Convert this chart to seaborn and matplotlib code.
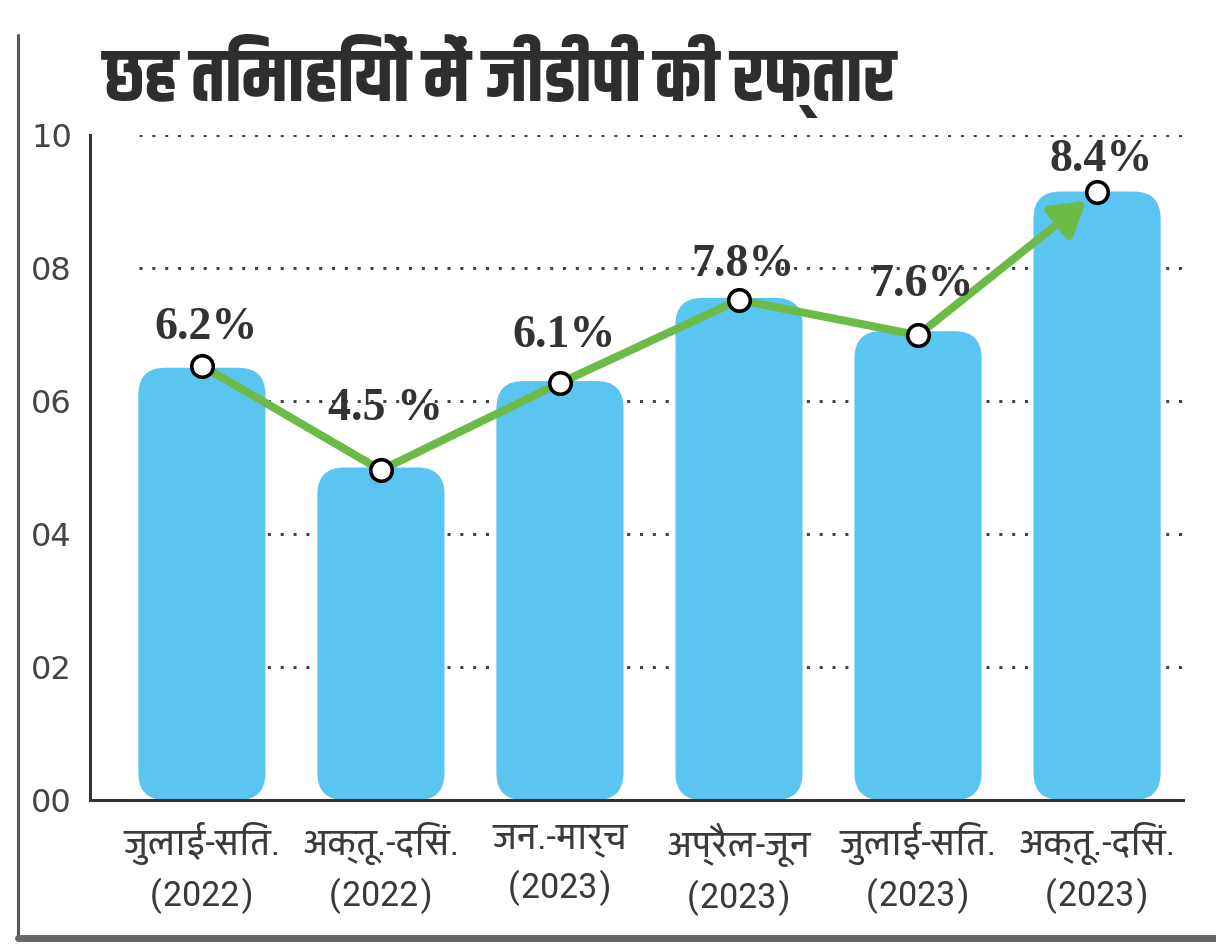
import matplotlib
matplotlib.use("Agg")
import matplotlib.pyplot as plt
from matplotlib.patches import FancyBboxPatch
from matplotlib.lines import Line2D
import numpy as np
import pandas as pd
import seaborn as sns

# ---------------- data ----------------
title = "छह तिमाहियों में जीडीपी की रफ्तार"
quarters = ["जुलाई-सितं.", "अक्तू.-दिसं.", "जन.-मार्च", "अप्रैल-जून", "जुलाई-सित.", "अक्तू.-दिसं."]
years = ["(2022)", "(2022)", "(2023)", "(2023)", "(2023)", "(2023)"]
bar_heights = [6.5, 5.0, 6.3, 7.55, 7.05, 9.15]
point_values = [6.53, 4.96, 6.27, 7.52, 6.99, 9.14]
value_labels = ["6.2%", "4.5 %", "6.1%", "7.8%", "7.6%", "8.4%"]
y_ticks = [0, 2, 4, 6, 8, 10]
y_tick_labels = ["00", "02", "04", "06", "08", "10"]

# ---------------- style ----------------
BAR = "#5BC5F1"
GREEN = "#6CBA47"
DARK = "#333333"
label_offsets_pt = [27, 44, 34, 25, 36, 23]

sns.set_style("white")
plt.rcParams["font.family"] = ["DejaVu Sans"]

W, H = 1216, 948
fig = plt.figure(figsize=(W / 100, H / 100), dpi=100)
ax_l, ax_r, ax_b, ax_t = 90, 1183, 800, 135
ax = fig.add_axes([ax_l / W, 1 - ax_b / H, (ax_r - ax_l) / W, (ax_b - ax_t) / H])

labels = [f"{q}\n{y}" for q, y in zip(quarters, years)]
df = pd.DataFrame({"cat": labels, "val": bar_heights, "pt": point_values})

sns.barplot(data=df, x="cat", y="val", color=BAR, width=0.71, saturation=1, ax=ax, zorder=2)

xmin, xmax = -0.625, 5.48
ax.set_xlim(xmin, xmax)
ax.set_ylim(0, 10)

# rounded bars from the library's own bar geometry
px_x = (ax_r - ax_l) / (xmax - xmin)
px_y = (ax_b - ax_t) / 10.0
aspect = px_x / px_y
r = 27 / px_x
for p in list(ax.patches):
    x0, y0, w, h = p.get_x(), p.get_y(), p.get_width(), p.get_height()
    p.remove()
    fb = FancyBboxPatch((x0, y0), w, h, boxstyle=f"round,pad=0,rounding_size={r}",
                        mutation_aspect=aspect, fc=BAR, ec="none", zorder=2)
    ax.add_patch(fb)

# dotted gridlines
for yv in y_ticks[1:]:
    ax.axhline(yv, xmin=(-0.35 - xmin) / (xmax - xmin), xmax=1, color="#444444",
               lw=2.2, ls=(0, (1, 3.2)), zorder=1)

# green line (first segments) + arrow on the last segment
xs = np.arange(len(point_values))
sns.lineplot(x=xs[:-1], y=point_values[:-1], color=GREEN, lw=5.8, ax=ax, zorder=3,
             solid_capstyle="round", solid_joinstyle="round", sort=False)
ax.annotate("", xy=(xs[-1], point_values[-1]), xytext=(xs[-2], point_values[-2]),
            arrowprops=dict(arrowstyle="-|>,head_length=0.9,head_width=0.55", lw=5.8,
                            color=GREEN, shrinkA=0, shrinkB=10, mutation_scale=22),
            zorder=3)
sns.scatterplot(x=xs, y=point_values, s=240, color="white", edgecolor="black",
                linewidth=2.6, ax=ax, zorder=5, legend=False)

for xi, yv, lab, off in zip(xs, point_values, value_labels, label_offsets_pt):
    ax.annotate(lab, (xi, yv), xytext=(3, off), textcoords="offset points",
                ha="center", va="center", fontsize=33, fontweight="bold",
                family="Liberation Serif", color=DARK, zorder=6, annotation_clip=False)

# axes styling
for s in ["top", "right"]:
    ax.spines[s].set_visible(False)
for s in ["left", "bottom"]:
    ax.spines[s].set_color(DARK)
    ax.spines[s].set_linewidth(2.2)

ax.set_yticks(y_ticks)
ax.set_yticklabels(y_tick_labels)
ax.tick_params(axis="y", direction="in", length=22, width=1.8, color=DARK,
               pad=13, labelsize=23, labelcolor="#444444")
for t in ax.get_yticklabels():
    t.set_fontfamily("DejaVu Sans")

ax.set_xticks(xs)
ax.set_xticklabels(labels)
ax.tick_params(axis="x", which="major", length=0, pad=16, labelsize=27, labelcolor="#3a3a3a")
for t in ax.get_xticklabels():
    t.set_fontfamily(["Yantramanav", "DejaVu Sans"])
    t.set_linespacing(1.45)
ax.set_xticks(list(xs[:-1] + 0.5) + [xmax - 0.005], minor=True)
ax.tick_params(axis="x", which="minor", direction="in", length=9, width=1.6, color=DARK)
ax.set_xlabel("")
ax.set_ylabel("")

# title
fig.text(104 / W, 1 - 76 / H, title, ha="left", va="center", fontsize=53,
         fontweight="bold", family=["Khand", "DejaVu Sans"], color="#2e2e2e")

# outer frame lines
fig.add_artist(Line2D([18 / W, 18 / W], [1 - 35 / H, 1 - 938 / H], color="#555555",
                      lw=2.2, transform=fig.transFigure))
fig.add_artist(Line2D([18 / W, 1.0], [1 - 938 / H, 1 - 938 / H], color="#666666",
                      lw=5, transform=fig.transFigure))

fig.savefig("out.png", dpi=100)
